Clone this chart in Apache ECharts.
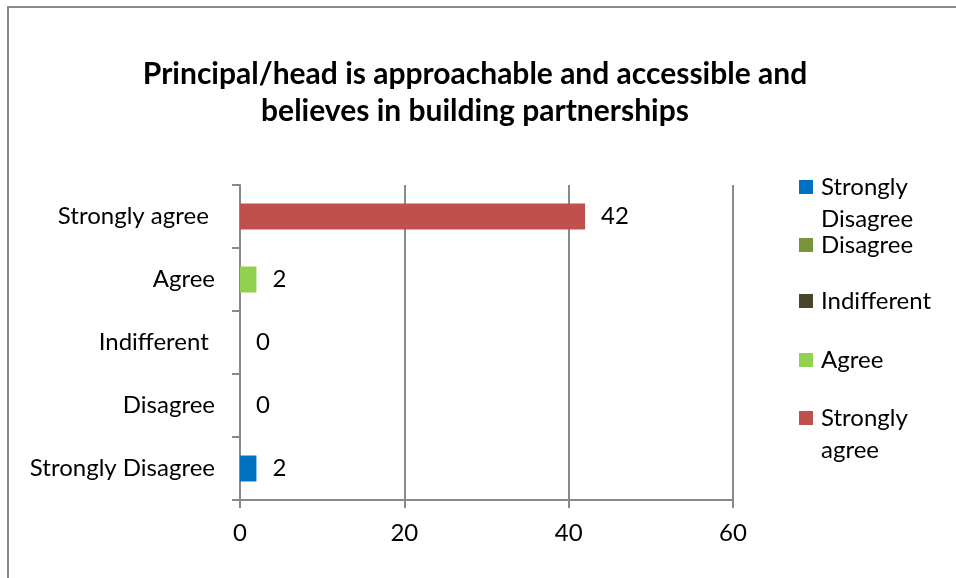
<!DOCTYPE html>
<html>
<head>
<meta charset="utf-8">
<script src="https://cdn.jsdelivr.net/npm/echarts@6/dist/echarts.min.js"></script>
<style>
html,body{margin:0;padding:0;background:#fff;}
#chart{width:956px;height:578px;}
</style>
</head>
<body>
<div id="chart"></div>
<script>
const categories = ['Strongly Disagree', 'Disagree', 'Indifferent ', 'Agree', 'Strongly agree '];
const values = [2, 0, 0, 2, 42];
const seriesNames = ['Strongly Disagree', 'Disagree', 'Indifferent', 'Agree', 'Strongly agree'];
const colors = ['#0070C0', '#77933C', '#4A452A', '#92D050', '#C0504D'];
const legendLines = [['Strongly', 'Disagree'], ['Disagree'], ['Indifferent'], ['Agree'], ['Strongly', 'agree']];
const xTicks = [0, 20, 40, 60];
const titleText = 'Principal/head is approachable and accessible and\nbelieves in building partnerships';

const FONT = 'Lato';
const FS = 24;
const chart = echarts.init(document.getElementById('chart'));

const series = seriesNames.map((name, i) => ({
  name: name,
  type: 'bar',
  stack: 'total',
  barWidth: 26,
  itemStyle: { color: colors[i] },
  label: {
    show: true, position: 'right', distance: 16,
    color: '#000', fontFamily: FONT, fontSize: FS
  },
  data: categories.map((c, j) => (j === i ? values[j] : '-'))
}));

const legendCenters = [187, 245, 301, 360, 418];
const LH = 32;
const legends = seriesNames.map((name, i) => {
  const lines = legendLines[i];
  const twoLine = lines.length > 1;
  const boxH = twoLine ? 3 * LH : LH;
  const txt = (twoLine ? ['{t| }'] : []).concat(lines.map(l => '{t|' + l + '}')).join('\n');
  return {
    orient: 'vertical',
    left: 799,
    top: legendCenters[i] - boxH / 2,
    padding: 0,
    icon: 'rect',
    itemWidth: 14,
    itemHeight: 14,
    itemGap: 0,
    selectedMode: false,
    data: [name],
    formatter: () => txt,
    textStyle: {
      fontFamily: FONT, fontSize: FS, color: '#000', lineHeight: LH,
      rich: { t: { fontFamily: FONT, fontSize: FS, color: '#000', lineHeight: LH, padding: [0, 0, 0, 3] } }
    }
  };
});

chart.setOption({
  animation: false,
  backgroundColor: '#fff',
  title: {
    text: titleText,
    left: 470, top: 51, textAlign: 'center',
    textStyle: { fontFamily: FONT, fontWeight: 'bold', fontSize: 30, color: '#000', lineHeight: 37 }
  },
  graphic: [{
    type: 'rect', shape: { x: 8, y: 7, width: 1200, height: 1200 },
    style: { fill: 'none', stroke: '#898989', lineWidth: 2 }, silent: true
  }],
  legend: legends,
  grid: { left: 240, right: 223, top: 185, bottom: 78, containLabel: false },
  xAxis: {
    type: 'value', min: xTicks[0], max: xTicks[xTicks.length - 1], interval: 20,
    axisLine: { show: true, lineStyle: { color: '#898989', width: 2 } },
    axisTick: { show: true, length: 8, lineStyle: { color: '#898989', width: 2 } },
    axisLabel: { color: '#000', fontFamily: FONT, fontSize: FS, margin: 21 },
    splitLine: { show: true, lineStyle: { color: '#898989', width: 2 } }
  },
  yAxis: {
    type: 'category', data: categories,
    axisLine: { show: true, lineStyle: { color: '#898989', width: 2 } },
    axisTick: { show: true, length: 8, lineStyle: { color: '#898989', width: 2 } },
    axisLabel: { color: '#000', fontFamily: FONT, fontSize: FS, margin: 25 },
    splitLine: { show: false }
  },
  series: series
});
</script>
</body>
</html>
